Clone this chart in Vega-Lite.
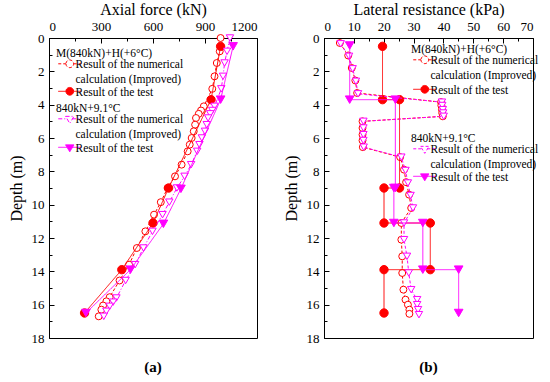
{
  "$schema": "https://vega.github.io/schema/vega-lite/v6.json",
  "padding": {"left": 7, "top": 0, "right": 5, "bottom": 5},
  "datasets": {
    "axial": [
      {"s":"n1","o":1,"d":0,"v":990},{"s":"n1","o":2,"d":0.8,"v":985},{"s":"n1","o":3,"d":1.5,"v":968},{"s":"n1","o":4,"d":2.3,"v":955},{"s":"n1","o":5,"d":3.05,"v":942},{"s":"n1","o":6,"d":4.1,"v":893},{"s":"n1","o":7,"d":4.35,"v":877},{"s":"n1","o":8,"d":4.55,"v":864},{"s":"n1","o":9,"d":4.8,"v":848},{"s":"n1","o":10,"d":5.2,"v":843},{"s":"n1","o":11,"d":5.6,"v":835},{"s":"n1","o":12,"d":6.0,"v":823},{"s":"n1","o":13,"d":6.4,"v":812},{"s":"n1","o":14,"d":6.8,"v":800},{"s":"n1","o":15,"d":7.6,"v":765},{"s":"n1","o":16,"d":8.3,"v":727},{"s":"n1","o":17,"d":9.0,"v":684},{"s":"n1","o":18,"d":9.85,"v":645},{"s":"n1","o":19,"d":10.6,"v":606},{"s":"n1","o":20,"d":11.6,"v":556},{"s":"n1","o":21,"d":12.6,"v":507},{"s":"n1","o":22,"d":13.6,"v":462},{"s":"n1","o":23,"d":14.55,"v":407},{"s":"n1","o":24,"d":15.55,"v":350},{"s":"n1","o":25,"d":15.8,"v":331},{"s":"n1","o":26,"d":16.05,"v":312},{"s":"n1","o":27,"d":16.3,"v":302},{"s":"n1","o":28,"d":16.7,"v":287},
      {"s":"t1","o":1,"d":0.5,"v":990},{"s":"t1","o":2,"d":3.7,"v":935},{"s":"t1","o":3,"d":9.0,"v":690},{"s":"t1","o":4,"d":11.1,"v":600},{"s":"t1","o":5,"d":13.9,"v":420},{"s":"t1","o":6,"d":16.5,"v":205},
      {"s":"n2","o":1,"d":0,"v":1044},{"s":"n2","o":2,"d":0.8,"v":1027},{"s":"n2","o":3,"d":1.5,"v":1013},{"s":"n2","o":4,"d":2.3,"v":1004},{"s":"n2","o":5,"d":3.05,"v":994},{"s":"n2","o":6,"d":4.1,"v":955},{"s":"n2","o":7,"d":4.35,"v":942},{"s":"n2","o":8,"d":4.55,"v":930},{"s":"n2","o":9,"d":4.8,"v":918},{"s":"n2","o":10,"d":5.2,"v":910},{"s":"n2","o":11,"d":5.6,"v":900},{"s":"n2","o":12,"d":6.0,"v":882},{"s":"n2","o":13,"d":6.4,"v":868},{"s":"n2","o":14,"d":6.8,"v":855},{"s":"n2","o":15,"d":7.6,"v":820},{"s":"n2","o":16,"d":8.3,"v":782},{"s":"n2","o":17,"d":9.0,"v":738},{"s":"n2","o":18,"d":9.85,"v":694},{"s":"n2","o":19,"d":10.6,"v":655},{"s":"n2","o":20,"d":11.6,"v":597},{"s":"n2","o":21,"d":12.6,"v":545},{"s":"n2","o":22,"d":13.6,"v":497},{"s":"n2","o":23,"d":14.55,"v":442},{"s":"n2","o":24,"d":15.6,"v":389},{"s":"n2","o":25,"d":15.85,"v":370},{"s":"n2","o":26,"d":16.1,"v":350},{"s":"n2","o":27,"d":16.4,"v":331},{"s":"n2","o":28,"d":16.7,"v":316},
      {"s":"t2","o":1,"d":0.5,"v":1062},{"s":"t2","o":2,"d":3.7,"v":990},{"s":"t2","o":3,"d":9.05,"v":761},{"s":"t2","o":4,"d":11.15,"v":660},{"s":"t2","o":5,"d":13.9,"v":470},{"s":"t2","o":6,"d":16.5,"v":213}
    ],
    "lateral": [
      {"s":"n1","o":1,"d":0.3,"v":5.3},{"s":"n1","o":2,"d":1.05,"v":8.1},{"s":"n1","o":3,"d":1.8,"v":9.3},{"s":"n1","o":4,"d":2.55,"v":10.5},{"s":"n1","o":5,"d":3.3,"v":11.1},{"s":"n1","o":6,"d":3.85,"v":39.2},{"s":"n1","o":7,"d":4.05,"v":39.3},{"s":"n1","o":8,"d":4.3,"v":39.5},{"s":"n1","o":9,"d":4.5,"v":39.6},{"s":"n1","o":10,"d":4.7,"v":39.8},{"s":"n1","o":11,"d":5.0,"v":12.9},{"s":"n1","o":12,"d":5.4,"v":12.9},{"s":"n1","o":13,"d":5.8,"v":12.9},{"s":"n1","o":14,"d":6.15,"v":12.9},{"s":"n1","o":15,"d":6.55,"v":13.0},{"s":"n1","o":16,"d":7.15,"v":25.5},{"s":"n1","o":17,"d":7.9,"v":26.8},{"s":"n1","o":18,"d":8.65,"v":27.5},{"s":"n1","o":19,"d":9.4,"v":28.5},{"s":"n1","o":20,"d":10.2,"v":29.2},{"s":"n1","o":21,"d":11.1,"v":25.9},{"s":"n1","o":22,"d":12.1,"v":25.9},{"s":"n1","o":23,"d":13.1,"v":26.2},{"s":"n1","o":24,"d":14.1,"v":26.2},{"s":"n1","o":25,"d":15.1,"v":26.6},{"s":"n1","o":26,"d":15.7,"v":27.3},{"s":"n1","o":27,"d":16.0,"v":28.1},{"s":"n1","o":28,"d":16.3,"v":28.6},{"s":"n1","o":29,"d":16.55,"v":28.6},
      {"s":"t1","o":1,"d":0.5,"v":19.6},{"s":"t1","o":2,"d":3.7,"v":19.6},{"s":"t1","o":3,"d":3.7,"v":25.3},{"s":"t1","o":4,"d":9.0,"v":25.3},{"s":"t1","o":5,"d":9.0,"v":20.1},{"s":"t1","o":6,"d":11.1,"v":20.1},{"s":"t1","o":7,"d":11.1,"v":35.6},{"s":"t1","o":8,"d":13.9,"v":35.6},{"s":"t1","o":9,"d":13.9,"v":20.1},{"s":"t1","o":10,"d":16.5,"v":20.1},
      {"s":"n2","o":1,"d":0.35,"v":5.6},{"s":"n2","o":2,"d":1.1,"v":8.4},{"s":"n2","o":3,"d":1.85,"v":9.6},{"s":"n2","o":4,"d":2.6,"v":10.7},{"s":"n2","o":5,"d":3.35,"v":11.4},{"s":"n2","o":6,"d":3.85,"v":39.5},{"s":"n2","o":7,"d":4.05,"v":39.6},{"s":"n2","o":8,"d":4.3,"v":39.8},{"s":"n2","o":9,"d":4.5,"v":39.9},{"s":"n2","o":10,"d":4.7,"v":40.1},{"s":"n2","o":11,"d":5.0,"v":13.2},{"s":"n2","o":12,"d":5.4,"v":13.2},{"s":"n2","o":13,"d":5.8,"v":13.2},{"s":"n2","o":14,"d":6.15,"v":13.2},{"s":"n2","o":15,"d":6.55,"v":13.3},{"s":"n2","o":16,"d":7.15,"v":25.9},{"s":"n2","o":17,"d":7.95,"v":27.3},{"s":"n2","o":18,"d":8.7,"v":28.1},{"s":"n2","o":19,"d":9.45,"v":29.0},{"s":"n2","o":20,"d":10.2,"v":29.8},{"s":"n2","o":21,"d":11.1,"v":26.8},{"s":"n2","o":22,"d":12.1,"v":26.8},{"s":"n2","o":23,"d":13.1,"v":27.8},{"s":"n2","o":24,"d":14.1,"v":28.4},{"s":"n2","o":25,"d":15.1,"v":29.2},{"s":"n2","o":26,"d":15.7,"v":31.2},{"s":"n2","o":27,"d":16.0,"v":31.2},{"s":"n2","o":28,"d":16.3,"v":31.5},{"s":"n2","o":29,"d":16.6,"v":31.8},
      {"s":"t2","o":1,"d":0.45,"v":8.6},{"s":"t2","o":2,"d":3.7,"v":8.6},{"s":"t2","o":3,"d":3.7,"v":23.9},{"s":"t2","o":4,"d":9.0,"v":23.9},{"s":"t2","o":5,"d":9.0,"v":23.4},{"s":"t2","o":6,"d":11.1,"v":23.4},{"s":"t2","o":7,"d":11.1,"v":33.1},{"s":"t2","o":8,"d":13.9,"v":33.1},{"s":"t2","o":9,"d":13.9,"v":45.1},{"s":"t2","o":10,"d":16.5,"v":45.1}
    ]
  },
  "hconcat": [
    {
      "width": 208, "height": 300,
      "data": {"name": "axial"},
      "title": {"text": "(a)", "orient": "bottom", "offset": 15},
      "encoding": {
        "x": {"field": "v", "type": "quantitative", "scale": {"domain": [0, 1200], "nice": false},
          "axis": {"orient": "top", "title": "Axial force (kN)", "format": "d", "values": [0,150,300,450,600,750,900,1050,1200],
            "labelExpr": "datum.value % 300 == 0 ? datum.label : ''",
            "tickSize": {"condition": {"test": "datum.value % 300 != 0", "value": -3}, "value": -5},
            "labelPadding": 10, "titlePadding": 3}},
        "y": {"field": "d", "type": "quantitative", "scale": {"domain": [0, 18], "reverse": true, "nice": false},
          "axis": {"title": "Depth (m)", "values": [0,1,2,3,4,5,6,7,8,9,10,11,12,13,14,15,16,17,18],
            "labelExpr": "datum.value % 2 == 0 ? datum.label : ''",
            "tickSize": {"condition": {"test": "datum.value % 2 == 1", "value": -3}, "value": -5},
            "labelPadding": 10, "titlePadding": 7}},
        "order": {"field": "o", "type": "quantitative"}
      },
      "layer": [
        {"transform": [{"filter": "datum.s == 'n1'"}],
         "layer": [
           {"mark": {"type": "line", "strokeWidth": 1},
            "encoding": {
              "color": {"field": "s", "type": "nominal", "scale": {"domain": ["n1"], "range": ["#ff0000"]},
                "legend": {"title": "M(840kN)+H(+6°C)", "orient": "none", "legendX": 7, "legendY": 10,
                  "symbolType": "M-1,1.3H1.19M3.39,1.3H5.57M1.19,1.3A1.1,1.1 0 1,0 3.39,1.3A1.1,1.1 0 1,0 1.19,1.3Z",
                  "labelExpr": "['Result of the numerical','calculation (Improved)']"}},
              "strokeDash": {"field": "s", "type": "nominal", "scale": {"domain": ["n1"], "range": [[3,2]]},
                "legend": {"title": "M(840kN)+H(+6°C)", "orient": "none", "legendX": 7, "legendY": 10,
                  "symbolType": "M-1,1.3H1.19M3.39,1.3H5.57M1.19,1.3A1.1,1.1 0 1,0 3.39,1.3A1.1,1.1 0 1,0 1.19,1.3Z",
                  "labelExpr": "['Result of the numerical','calculation (Improved)']"}}}},
           {"mark": {"type": "point", "shape": "circle", "strokeWidth": 1, "opacity": 1, "size": 48},
            "encoding": {
              "color": {"field": "s", "type": "nominal", "scale": {"domain": ["n1"], "range": ["#ff0000"]}},
              "fill": {"field": "s", "type": "nominal", "scale": {"domain": ["n1"], "range": ["#ffffff"]},
                "legend": {"title": "M(840kN)+H(+6°C)", "orient": "none", "legendX": 7, "legendY": 10,
                  "symbolType": "M-1,1.3H1.19M3.39,1.3H5.57M1.19,1.3A1.1,1.1 0 1,0 3.39,1.3A1.1,1.1 0 1,0 1.19,1.3Z",
                  "labelExpr": "['Result of the numerical','calculation (Improved)']"}}}}
         ]},
        {"transform": [{"filter": "datum.s == 't1'"}],
         "layer": [
           {"mark": {"type": "line", "strokeWidth": 1},
            "encoding": {
              "color": {"field": "s", "type": "nominal", "scale": {"domain": ["t1"], "range": ["#ff0000"]},
                "legend": {"title": null, "orient": "none", "legendX": 7, "legendY": 43,
                  "symbolType": "M-1,1.3H1.19M3.39,1.3H5.57M1.19,1.3A1.1,1.1 0 1,0 3.39,1.3A1.1,1.1 0 1,0 1.19,1.3Z",
                  "labelExpr": "'Result of the test'"}},
              "strokeDash": {"field": "s", "type": "nominal", "scale": {"domain": ["t1"], "range": [[1,0]]},
                "legend": {"title": null, "orient": "none", "legendX": 7, "legendY": 43,
                  "symbolType": "M-1,1.3H1.19M3.39,1.3H5.57M1.19,1.3A1.1,1.1 0 1,0 3.39,1.3A1.1,1.1 0 1,0 1.19,1.3Z",
                  "labelExpr": "'Result of the test'"}}}},
           {"mark": {"type": "point", "shape": "circle", "strokeWidth": 1, "opacity": 1, "size": 70},
            "encoding": {
              "color": {"field": "s", "type": "nominal", "scale": {"domain": ["t1"], "range": ["#ff0000"]}},
              "fill": {"field": "s", "type": "nominal", "scale": {"domain": ["t1"], "range": ["#ff0000"]},
                "legend": {"title": null, "orient": "none", "legendX": 7, "legendY": 43,
                  "symbolType": "M-1,1.3H1.19M3.39,1.3H5.57M1.19,1.3A1.1,1.1 0 1,0 3.39,1.3A1.1,1.1 0 1,0 1.19,1.3Z",
                  "labelExpr": "'Result of the test'"}}}}
         ]},
        {"transform": [{"filter": "datum.s == 'n2'"}],
         "layer": [
           {"mark": {"type": "line", "strokeWidth": 1},
            "encoding": {
              "color": {"field": "s", "type": "nominal", "scale": {"domain": ["n2"], "range": ["#ff00ff"]},
                "legend": {"title": "840kN+9.1°C", "orient": "none", "legendX": 7, "legendY": 65,
                  "symbolType": "M-1,1.3H1.6M3.0,1.3H5.57M1.09,0.6L3.49,0.6L2.29,2.6Z",
                  "labelExpr": "['Result of the numerical','calculation (Improved)']"}},
              "strokeDash": {"field": "s", "type": "nominal", "scale": {"domain": ["n2"], "range": [[4,2,1,2]]},
                "legend": {"title": "840kN+9.1°C", "orient": "none", "legendX": 7, "legendY": 65,
                  "symbolType": "M-1,1.3H1.6M3.0,1.3H5.57M1.09,0.6L3.49,0.6L2.29,2.6Z",
                  "labelExpr": "['Result of the numerical','calculation (Improved)']"}}}},
           {"mark": {"type": "point", "shape": "triangle-down", "strokeWidth": 1, "opacity": 1, "size": 55},
            "encoding": {
              "color": {"field": "s", "type": "nominal", "scale": {"domain": ["n2"], "range": ["#ff00ff"]}},
              "fill": {"field": "s", "type": "nominal", "scale": {"domain": ["n2"], "range": ["#ffffff"]},
                "legend": {"title": "840kN+9.1°C", "orient": "none", "legendX": 7, "legendY": 65,
                  "symbolType": "M-1,1.3H1.6M3.0,1.3H5.57M1.09,0.6L3.49,0.6L2.29,2.6Z",
                  "labelExpr": "['Result of the numerical','calculation (Improved)']"}}}}
         ]},
        {"transform": [{"filter": "datum.s == 't2'"}],
         "layer": [
           {"mark": {"type": "line", "strokeWidth": 1},
            "encoding": {
              "color": {"field": "s", "type": "nominal", "scale": {"domain": ["t2"], "range": ["#ff00ff"]},
                "legend": {"title": null, "orient": "none", "legendX": 7, "legendY": 99,
                  "symbolType": "M-1,1.3H1.6M3.0,1.3H5.57M1.09,0.6L3.49,0.6L2.29,2.6Z",
                  "labelExpr": "'Result of the test'"}},
              "strokeDash": {"field": "s", "type": "nominal", "scale": {"domain": ["t2"], "range": [[1,0]]},
                "legend": {"title": null, "orient": "none", "legendX": 7, "legendY": 99,
                  "symbolType": "M-1,1.3H1.6M3.0,1.3H5.57M1.09,0.6L3.49,0.6L2.29,2.6Z",
                  "labelExpr": "'Result of the test'"}}}},
           {"mark": {"type": "point", "shape": "triangle-down", "strokeWidth": 1, "opacity": 1, "size": 75},
            "encoding": {
              "color": {"field": "s", "type": "nominal", "scale": {"domain": ["t2"], "range": ["#ff00ff"]}},
              "fill": {"field": "s", "type": "nominal", "scale": {"domain": ["t2"], "range": ["#ff00ff"]},
                "legend": {"title": null, "orient": "none", "legendX": 7, "legendY": 99,
                  "symbolType": "M-1,1.3H1.6M3.0,1.3H5.57M1.09,0.6L3.49,0.6L2.29,2.6Z",
                  "labelExpr": "'Result of the test'"}}}}
         ]}
      ],
      "resolve": {"scale": {"color": "independent", "fill": "independent", "strokeDash": "independent"}}
    },
    {
      "width": 209, "height": 300,
      "data": {"name": "lateral"},
      "title": {"text": "(b)", "orient": "bottom", "offset": 15},
      "encoding": {
        "x": {"field": "v", "type": "quantitative", "scale": {"domain": [0, 70], "nice": false},
          "axis": {"orient": "top", "title": "Lateral resistance (kPa)", "values": [0,5,10,15,20,25,30,35,40,45,50,55,60,65,70],
            "labelExpr": "datum.value % 10 == 0 ? datum.label : ''",
            "tickSize": {"condition": {"test": "datum.value % 10 != 0", "value": -3}, "value": -5},
            "labelPadding": 10, "titlePadding": 3}},
        "y": {"field": "d", "type": "quantitative", "scale": {"domain": [0, 18], "reverse": true, "nice": false},
          "axis": {"title": "Depth (m)", "values": [0,1,2,3,4,5,6,7,8,9,10,11,12,13,14,15,16,17,18],
            "labelExpr": "datum.value % 2 == 0 ? datum.label : ''",
            "tickSize": {"condition": {"test": "datum.value % 2 == 1", "value": -3}, "value": -5},
            "labelPadding": 10, "titlePadding": 7}},
        "order": {"field": "o", "type": "quantitative"}
      },
      "layer": [
        {"transform": [{"filter": "datum.s == 'n1'"}],
         "layer": [
           {"mark": {"type": "line", "strokeWidth": 1},
            "encoding": {
              "color": {"field": "s", "type": "nominal", "scale": {"domain": ["n1"], "range": ["#ff0000"]},
                "legend": {"title": "M(840kN)+H(+6°C)", "orient": "none", "legendX": 87, "legendY": 6,
                  "symbolType": "M-1,1.3H1.19M3.39,1.3H5.57M1.19,1.3A1.1,1.1 0 1,0 3.39,1.3A1.1,1.1 0 1,0 1.19,1.3Z",
                  "labelExpr": "['Result of the numerical','calculation (Improved)']"}},
              "strokeDash": {"field": "s", "type": "nominal", "scale": {"domain": ["n1"], "range": [[3,2]]},
                "legend": {"title": "M(840kN)+H(+6°C)", "orient": "none", "legendX": 87, "legendY": 6,
                  "symbolType": "M-1,1.3H1.19M3.39,1.3H5.57M1.19,1.3A1.1,1.1 0 1,0 3.39,1.3A1.1,1.1 0 1,0 1.19,1.3Z",
                  "labelExpr": "['Result of the numerical','calculation (Improved)']"}}}},
           {"mark": {"type": "point", "shape": "circle", "strokeWidth": 1, "opacity": 1, "size": 48},
            "encoding": {
              "color": {"field": "s", "type": "nominal", "scale": {"domain": ["n1"], "range": ["#ff0000"]}},
              "fill": {"field": "s", "type": "nominal", "scale": {"domain": ["n1"], "range": ["#ffffff"]},
                "legend": {"title": "M(840kN)+H(+6°C)", "orient": "none", "legendX": 87, "legendY": 6,
                  "symbolType": "M-1,1.3H1.19M3.39,1.3H5.57M1.19,1.3A1.1,1.1 0 1,0 3.39,1.3A1.1,1.1 0 1,0 1.19,1.3Z",
                  "labelExpr": "['Result of the numerical','calculation (Improved)']"}}}}
         ]},
        {"transform": [{"filter": "datum.s == 't1'"}],
         "layer": [
           {"mark": {"type": "line", "strokeWidth": 1},
            "encoding": {
              "color": {"field": "s", "type": "nominal", "scale": {"domain": ["t1"], "range": ["#ff0000"]},
                "legend": {"title": null, "orient": "none", "legendX": 87, "legendY": 41,
                  "symbolType": "M-1,1.3H1.19M3.39,1.3H5.57M1.19,1.3A1.1,1.1 0 1,0 3.39,1.3A1.1,1.1 0 1,0 1.19,1.3Z",
                  "labelExpr": "'Result of the test'"}},
              "strokeDash": {"field": "s", "type": "nominal", "scale": {"domain": ["t1"], "range": [[1,0]]},
                "legend": {"title": null, "orient": "none", "legendX": 87, "legendY": 41,
                  "symbolType": "M-1,1.3H1.19M3.39,1.3H5.57M1.19,1.3A1.1,1.1 0 1,0 3.39,1.3A1.1,1.1 0 1,0 1.19,1.3Z",
                  "labelExpr": "'Result of the test'"}}}},
           {"mark": {"type": "point", "shape": "circle", "strokeWidth": 1, "opacity": 1, "size": 70},
            "encoding": {
              "color": {"field": "s", "type": "nominal", "scale": {"domain": ["t1"], "range": ["#ff0000"]}},
              "fill": {"field": "s", "type": "nominal", "scale": {"domain": ["t1"], "range": ["#ff0000"]},
                "legend": {"title": null, "orient": "none", "legendX": 87, "legendY": 41,
                  "symbolType": "M-1,1.3H1.19M3.39,1.3H5.57M1.19,1.3A1.1,1.1 0 1,0 3.39,1.3A1.1,1.1 0 1,0 1.19,1.3Z",
                  "labelExpr": "'Result of the test'"}}}}
         ]},
        {"transform": [{"filter": "datum.s == 'n2'"}],
         "layer": [
           {"mark": {"type": "line", "strokeWidth": 1},
            "encoding": {
              "color": {"field": "s", "type": "nominal", "scale": {"domain": ["n2"], "range": ["#ff00ff"]},
                "legend": {"title": "840kN+9.1°C", "orient": "none", "legendX": 87, "legendY": 95,
                  "symbolType": "M-1,1.3H1.6M3.0,1.3H5.57M1.09,0.6L3.49,0.6L2.29,2.6Z",
                  "labelExpr": "['Result of the numerical','calculation (Improved)']"}},
              "strokeDash": {"field": "s", "type": "nominal", "scale": {"domain": ["n2"], "range": [[3,2]]},
                "legend": {"title": "840kN+9.1°C", "orient": "none", "legendX": 87, "legendY": 95,
                  "symbolType": "M-1,1.3H1.6M3.0,1.3H5.57M1.09,0.6L3.49,0.6L2.29,2.6Z",
                  "labelExpr": "['Result of the numerical','calculation (Improved)']"}}}},
           {"mark": {"type": "point", "shape": "triangle-down", "strokeWidth": 1, "opacity": 1, "size": 55},
            "encoding": {
              "color": {"field": "s", "type": "nominal", "scale": {"domain": ["n2"], "range": ["#ff00ff"]}},
              "fill": {"field": "s", "type": "nominal", "scale": {"domain": ["n2"], "range": ["#ffffff"]},
                "legend": {"title": "840kN+9.1°C", "orient": "none", "legendX": 87, "legendY": 95,
                  "symbolType": "M-1,1.3H1.6M3.0,1.3H5.57M1.09,0.6L3.49,0.6L2.29,2.6Z",
                  "labelExpr": "['Result of the numerical','calculation (Improved)']"}}}}
         ]},
        {"transform": [{"filter": "datum.s == 't2'"}],
         "layer": [
           {"mark": {"type": "line", "strokeWidth": 1},
            "encoding": {
              "color": {"field": "s", "type": "nominal", "scale": {"domain": ["t2"], "range": ["#ff00ff"]},
                "legend": {"title": null, "orient": "none", "legendX": 87, "legendY": 128,
                  "symbolType": "M-1,1.3H1.6M3.0,1.3H5.57M1.09,0.6L3.49,0.6L2.29,2.6Z",
                  "labelExpr": "'Result of the test'"}},
              "strokeDash": {"field": "s", "type": "nominal", "scale": {"domain": ["t2"], "range": [[1,0]]},
                "legend": {"title": null, "orient": "none", "legendX": 87, "legendY": 128,
                  "symbolType": "M-1,1.3H1.6M3.0,1.3H5.57M1.09,0.6L3.49,0.6L2.29,2.6Z",
                  "labelExpr": "'Result of the test'"}}}},
           {"mark": {"type": "point", "shape": "triangle-down", "strokeWidth": 1, "opacity": 1, "size": 75},
            "encoding": {
              "color": {"field": "s", "type": "nominal", "scale": {"domain": ["t2"], "range": ["#ff00ff"]}},
              "fill": {"field": "s", "type": "nominal", "scale": {"domain": ["t2"], "range": ["#ff00ff"]},
                "legend": {"title": null, "orient": "none", "legendX": 87, "legendY": 128,
                  "symbolType": "M-1,1.3H1.6M3.0,1.3H5.57M1.09,0.6L3.49,0.6L2.29,2.6Z",
                  "labelExpr": "'Result of the test'"}}}}
         ]}
      ],
      "resolve": {"scale": {"color": "independent", "fill": "independent", "strokeDash": "independent"}}
    }
  ],
  "config": {
    "font": "Liberation Serif",
    "view": {"stroke": "black", "strokeWidth": 1},
    "concat": {"spacing": 24},
    "style": {"guide-label": {"font": "Liberation Serif", "lineHeight": 15}, "guide-title": {"font": "Liberation Serif"}},
    "axis": {"labelFont": "Liberation Serif", "titleFont": "Liberation Serif", "labelFontSize": 13, "titleFontSize": 16,
      "titleFontWeight": "normal", "labelColor": "black", "titleColor": "black", "domainColor": "black", "tickColor": "black",
      "grid": false, "domainWidth": 1, "tickWidth": 1},
    "legend": {"titleFont": "Liberation Serif", "labelFont": "Liberation Serif", "titleFontSize": 11.5, "labelFontSize": 11.5,
      "titleFontWeight": "normal", "titleColor": "black", "labelColor": "black", "padding": 0, "symbolStrokeWidth": 1,
      "symbolSize": 49, "labelOffset": 8, "rowPadding": 0, "titlePadding": -6, "symbolOpacity": 1, "labelBaseline": "top"},
    "title": {"font": "Liberation Serif", "fontSize": 15, "fontWeight": "bold", "color": "black"}
  }
}
